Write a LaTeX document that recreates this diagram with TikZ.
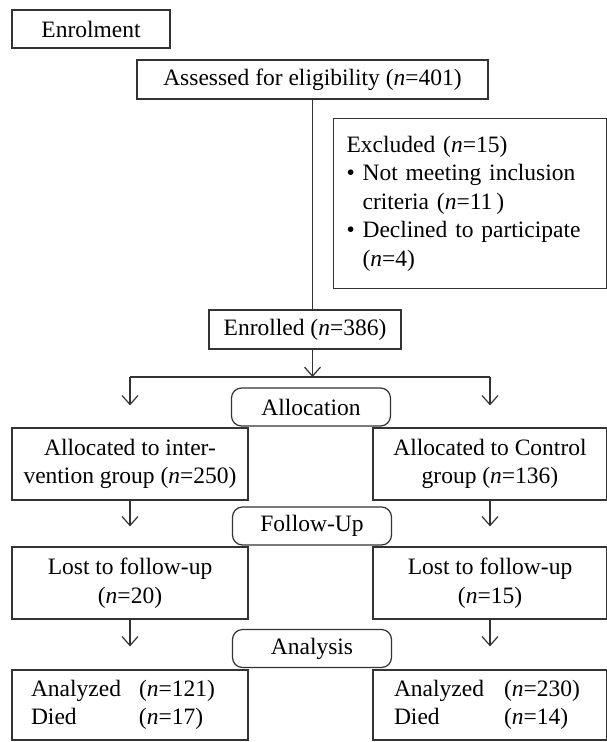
\documentclass[tikz,border=0pt]{standalone}
\usepackage{fontspec}
\setmainfont{Liberation Serif}
\usetikzlibrary{arrows.meta}
\tikzset{
	box/.style={draw=black!80,line width=1.2pt,inner sep=0pt,align=center},
	stage/.style={box,rounded corners=10pt,minimum width=159pt,minimum height=38pt},
	arm/.style={box,minimum width=236pt,minimum height=72pt}
}
\newcommand{\nn}[1]{(\textit{n}=#1)}
\begin{document}
\begin{tikzpicture}[x=1pt,y=-1pt,>={Straight Barb[length=9pt,width=16pt]},font=\fontsize{23.5}{28.5}\selectfont]
		\useasboundingbox (0,0) rectangle (607,742);
		\node[box,minimum width=158pt,minimum height=38pt] (enrolment) at (91,29) {Enrolment};
		\node[box,minimum width=351pt,minimum height=39pt] (assess) at (312.5,79.5) {Assessed for eligibility \nn{401}};
		\node[box,anchor=north west,text width=247pt,inner xsep=13pt,minimum height=170pt,align=left] (excl) at (333,118)
			{Excluded \nn{15}\\
			\makebox[16pt][l]{\textbullet}Not meeting inclusion\\
			\hspace*{16pt}criteria \nn{11\,}\\
			\makebox[16pt][l]{\textbullet}Declined to participate\\
			\hspace*{16pt}\nn{4}};
		\node[box,minimum width=192pt,minimum height=39pt] (enrol) at (305,329.5) {Enrolled \nn{386}};
		\coordinate (split) at (312.5,377);
		\node[stage] (allocation) at (311,407) {Allocation};
		\node[arm] (alloc1) at (130,464) {Allocated to inter-\\vention group \nn{250}};
		\node[arm,minimum width=234pt] (alloc2) at (490,464) {Allocated to Control\\group \nn{136}};
		\node[stage] (followup) at (312,526) {Follow-Up};
		\node[arm] (lost1) at (130,583) {Lost to follow-up\\\nn{20}};
		\node[arm,minimum width=234pt] (lost2) at (490,583) {Lost to follow-up\\\nn{15}};
		\node[stage] (analysis) at (312,648.5) {Analysis};
		\node[box,text width=198pt,inner xsep=19pt,minimum height=70pt,align=left] (anal1) at (130,705)
			{\makebox[108pt][l]{Analyzed}\nn{121}\\\makebox[108pt][l]{Died}\nn{17}};
		\node[box,text width=192pt,inner xsep=21pt,minimum height=70pt,align=left] (anal2) at (490,705)
			{\makebox[110pt][l]{Analyzed}\nn{230}\\\makebox[110pt][l]{Died}\nn{14}};
		% connectors
		\begin{scope}[draw=black!80,line width=1.2pt]
		\draw (assess.south) -- (assess.south |- enrol.north);
		\draw[->] (assess.south |- enrol.south) -- (split);
		\draw (split -| alloc1) -- (split -| alloc2);
		\foreach \s in {1,2}{
			\draw[->,shorten >=22pt] (split -| alloc\s) -- (alloc\s.north);
			\draw[->,shorten >=20pt] (alloc\s) -- (lost\s);
			\draw[->,shorten >=23pt] (lost\s) -- (anal\s);
		}
		\end{scope}
\end{tikzpicture}
\end{document}
